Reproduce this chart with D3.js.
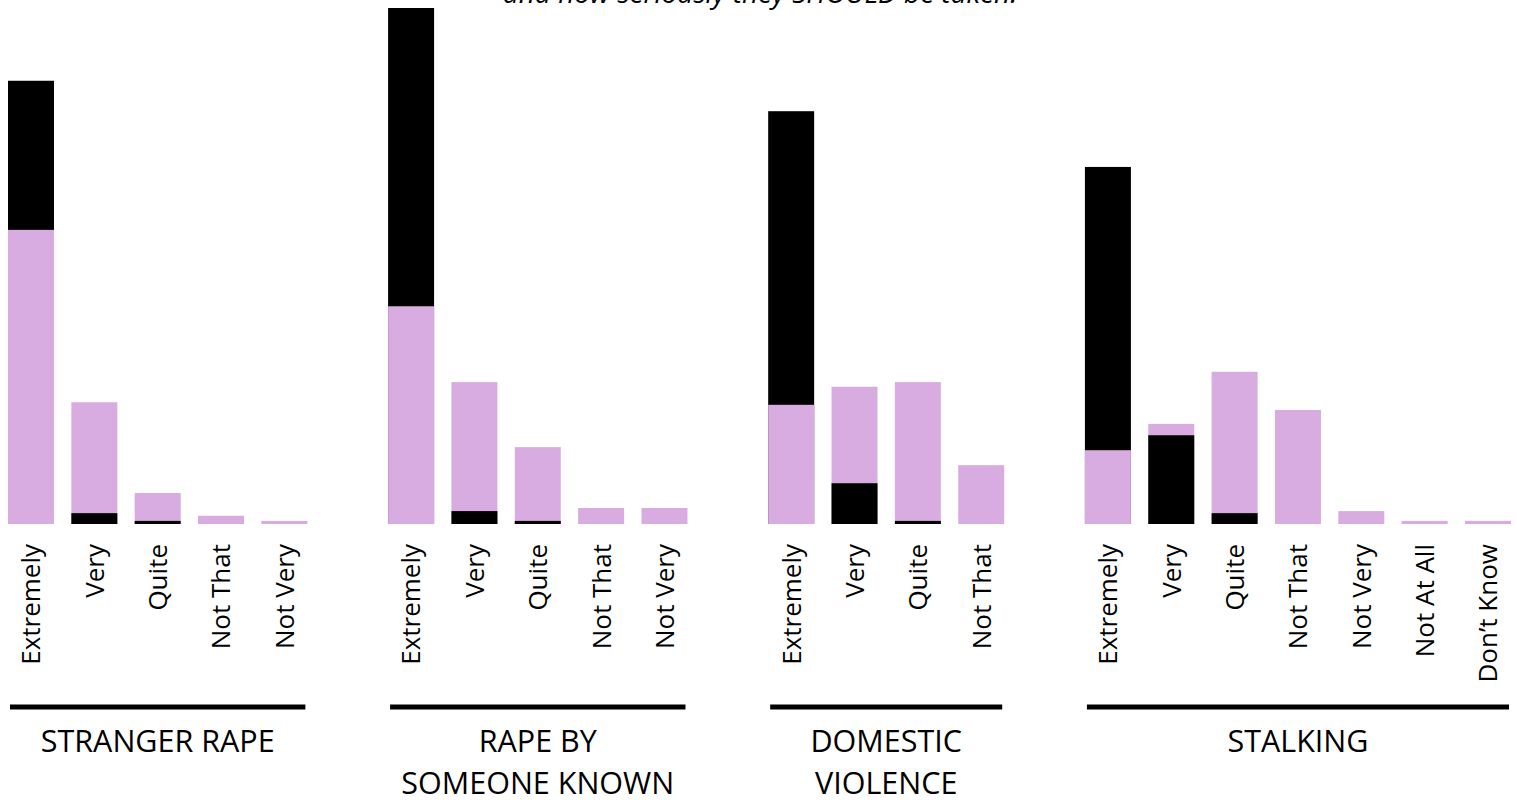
<!DOCTYPE html>
<html>
<head>
<meta charset="utf-8">
<script src="https://cdn.jsdelivr.net/npm/d3@7"></script>
<style>
  html, body { margin: 0; padding: 0; background: #fff; }
  svg { display: block; }
</style>
</head>
<body>
<svg id="chart" width="1517" height="803"></svg>
<script>
// ---- data ----
const title = "and how seriously they SHOULD be taken.";
const groups = ["STRANGER RAPE", "RAPE BY\nSOMEONE KNOWN", "DOMESTIC\nVIOLENCE", "STALKING"];
const categories = [
  ["Extremely", "Very", "Quite", "Not That", "Not Very"],
  ["Extremely", "Very", "Quite", "Not That", "Not Very"],
  ["Extremely", "Very", "Quite", "Not That"],
  ["Extremely", "Very", "Quite", "Not That", "Not Very", "Not At All", "Don\u2019t Know"]
];
// pink series
const pinkValues = [
  [57.0, 23.6, 6.0, 1.6, 0.6],
  [42.2, 27.5, 14.9, 3.1, 3.1],
  [23.1, 26.6, 27.5, 11.4],
  [14.3, 19.4, 29.5, 22.1, 2.5, 0.6, 0.6]
];
// black series
const blackValues = [
  [85.9, 2.1, 0.6, 0, 0],
  [100.0, 2.5, 0.6, 0, 0],
  [80.0, 7.9, 0.6, 0],
  [69.2, 17.2, 2.1, 0, 0, 0, 0]
];
const pinkColor = "#d8ace0";
const blackColor = "#000000";

// ---- layout ----
const svg = d3.select("#chart");
const font = "'Open Sans', 'Noto Sans', sans-serif";

// build slot list: categories with one empty slot between groups
const slots = [];
const bars = [];
groups.forEach((g, gi) => {
  if (gi > 0) slots.push("gap" + gi);
  categories[gi].forEach((c, ci) => {
    const key = gi + "|" + c;
    slots.push(key);
    bars.push({ key, group: gi, cat: c, pink: pinkValues[gi][ci], black: blackValues[gi][ci] });
  });
});

const x = d3.scaleBand().domain(slots).range([8, 1511]).paddingInner(0.274).paddingOuter(0);
const maxV = d3.max(bars, d => Math.max(d.pink, d.black));
const y = d3.scaleLinear().domain([0, maxV]).range([524, 8]);

// bars: taller first, shorter in front
const barG = svg.append("g");
bars.forEach(d => {
  const layers = [
    { v: d.pink, c: pinkColor },
    { v: d.black, c: blackColor }
  ].filter(l => l.v > 0).sort((a, b) => b.v - a.v);
  barG.selectAll(null).data(layers).enter().append("rect")
    .attr("x", x(d.key))
    .attr("width", x.bandwidth())
    .attr("y", l => y(l.v))
    .attr("height", l => y(0) - y(l.v))
    .attr("fill", l => l.c);
});

// category labels (rotated axis)
const axis = d3.axisBottom(x).tickSize(0).tickFormat(k => k.split("|")[1] || "");
const axG = svg.append("g").attr("transform", "translate(0,524)").call(axis);
axG.select(".domain").remove();
axG.selectAll(".tick").filter(k => k.startsWith("gap")).remove();
axG.selectAll(".tick text")
  .attr("transform", "rotate(-90)")
  .attr("text-anchor", "end")
  .attr("x", -20)
  .attr("y", 0)
  .attr("dy", "0.36em")
  .attr("font-family", font)
  .attr("font-size", 26)
  .attr("fill", "#000");

// group underlines and labels
groups.forEach((g, gi) => {
  const keys = categories[gi].map(c => gi + "|" + c);
  const x0 = x(keys[0]);
  const x1 = x(keys[keys.length - 1]) + x.bandwidth();
  svg.append("line")
    .attr("x1", x0 + 2).attr("x2", x1 - 2)
    .attr("y1", 707).attr("y2", 707)
    .attr("stroke", "#000").attr("stroke-width", 5);
  g.split("\n").forEach((line, li) => {
    svg.append("text")
      .attr("text-anchor", "middle")
      .attr("font-family", font)
      .attr("font-size", 30.5)
      .attr("fill", "#000")
      .attr("x", (x0 + x1) / 2)
      .attr("y", 752 + li * 42)
      .text(line);
  });
});

// title (cut off at the top edge, as in the reference)
svg.append("text")
  .attr("x", 760).attr("y", 3)
  .attr("text-anchor", "middle")
  .attr("font-family", font)
  .attr("font-style", "italic")
  .attr("font-size", 28)
  .attr("fill", "#000")
  .text(title);
</script>
</body>
</html>
